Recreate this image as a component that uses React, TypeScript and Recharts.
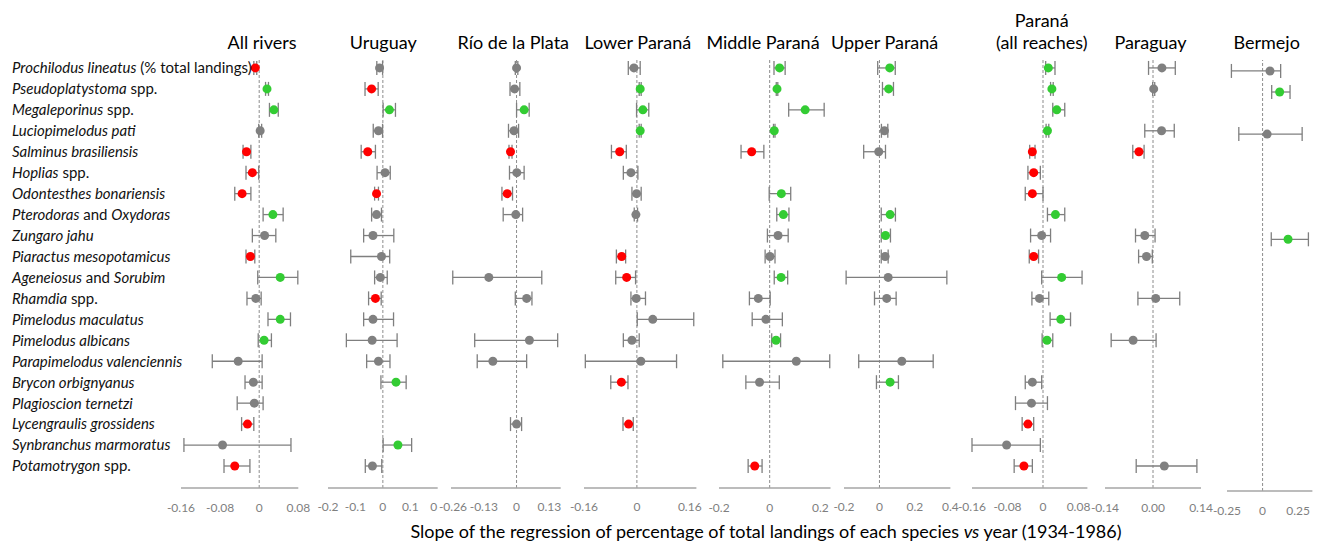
import React from 'react';
import { ScatterChart, Scatter, XAxis, YAxis, ErrorBar, ReferenceLine } from 'recharts';

const FONT = 'Lato, "Open Sans", sans-serif';

// species (italic parts between *)
const SPECIES = [
  '*Prochilodus lineatus* (% total landings)',
  '*Pseudoplatystoma* spp.',
  '*Megaleporinus* spp.',
  '*Luciopimelodus pati*',
  '*Salminus brasiliensis*',
  '*Hoplias* spp.',
  '*Odontesthes bonariensis*',
  '*Pterodoras* and *Oxydoras*',
  '*Zungaro jahu*',
  '*Piaractus mesopotamicus*',
  '*Ageneiosus* and *Sorubim*',
  '*Rhamdia* spp.',
  '*Pimelodus maculatus*',
  '*Pimelodus albicans*',
  '*Parapimelodus valenciennis*',
  '*Brycon orbignyanus*',
  '*Plagioscion ternetzi*',
  '*Lycengraulis grossidens*',
  '*Synbranchus marmoratus*',
  '*Potamotrygon* spp.',
];
const ROWS = SPECIES.map((_, i) => i);

type Row = [number, number, number, number, string]; // [species index, slope, lower, upper, trend]

const ALL_RIVERS: Row[] = [
  [0, -0.008, -0.011, -0.005, 'down'],
  [1, 0.016, 0.013, 0.019, 'up'],
  [2, 0.030, 0.021, 0.039, 'up'],
  [3, 0.002, -0.001, 0.005, 'ns'],
  [4, -0.026, -0.033, -0.017, 'down'],
  [5, -0.014, -0.027, -0.001, 'down'],
  [6, -0.035, -0.050, -0.017, 'down'],
  [7, 0.028, 0.008, 0.049, 'up'],
  [8, 0.011, -0.014, 0.034, 'ns'],
  [9, -0.018, -0.027, -0.009, 'down'],
  [10, 0.043, -0.003, 0.079, 'up'],
  [11, -0.007, -0.025, 0.004, 'ns'],
  [12, 0.043, 0.018, 0.064, 'up'],
  [13, 0.010, -0.002, 0.025, 'up'],
  [14, -0.043, -0.096, 0.006, 'ns'],
  [15, -0.012, -0.029, 0.006, 'ns'],
  [16, -0.010, -0.045, 0.008, 'ns'],
  [17, -0.024, -0.036, -0.011, 'down'],
  [18, -0.075, -0.154, 0.065, 'ns'],
  [19, -0.050, -0.072, -0.019, 'down'],
];

const URUGUAY: Row[] = [
  [0, -0.012, -0.022, -0.001, 'ns'],
  [1, -0.041, -0.065, -0.017, 'down'],
  [2, 0.024, 0.001, 0.046, 'up'],
  [3, -0.016, -0.035, -0.001, 'ns'],
  [4, -0.055, -0.079, -0.027, 'down'],
  [5, 0.008, -0.021, 0.027, 'ns'],
  [6, -0.023, -0.030, -0.016, 'down'],
  [7, -0.023, -0.041, -0.005, 'ns'],
  [8, -0.036, -0.070, 0.040, 'ns'],
  [9, -0.005, -0.117, 0.025, 'ns'],
  [10, -0.009, -0.030, 0.016, 'ns'],
  [11, -0.027, -0.052, -0.006, 'down'],
  [12, -0.036, -0.070, 0.039, 'ns'],
  [13, -0.039, -0.133, 0.052, 'ns'],
  [14, -0.016, -0.059, 0.026, 'ns'],
  [15, 0.048, -0.007, 0.085, 'up'],
  [18, 0.055, 0.001, 0.105, 'up'],
  [19, -0.038, -0.064, -0.004, 'ns'],
];

const RIO_DE_LA_PLATA: Row[] = [
  [0, 0.0, -0.005, 0.005, 'ns'],
  [1, -0.008, -0.026, 0.013, 'ns'],
  [2, 0.030, 0.0, 0.050, 'up'],
  [3, -0.010, -0.032, 0.008, 'ns'],
  [4, -0.024, -0.030, -0.018, 'down'],
  [5, 0.001, -0.028, 0.030, 'ns'],
  [6, -0.037, -0.058, -0.016, 'down'],
  [7, -0.003, -0.053, 0.024, 'ns'],
  [10, -0.110, -0.253, 0.100, 'ns'],
  [11, 0.040, -0.005, 0.061, 'ns'],
  [13, 0.051, -0.166, 0.163, 'ns'],
  [14, -0.094, -0.156, 0.040, 'ns'],
  [17, 0.0, -0.024, 0.020, 'ns'],
];

const LOWER_PARANA: Row[] = [
  [0, -0.009, -0.026, 0.010, 'ns'],
  [1, 0.010, 0.007, 0.013, 'up'],
  [2, 0.018, -0.001, 0.036, 'up'],
  [3, 0.010, 0.007, 0.013, 'up'],
  [4, -0.052, -0.077, -0.032, 'down'],
  [5, -0.018, -0.041, 0.003, 'ns'],
  [6, -0.001, -0.015, 0.013, 'ns'],
  [7, -0.003, -0.008, 0.002, 'ns'],
  [9, -0.046, -0.062, -0.034, 'down'],
  [10, -0.031, -0.064, -0.004, 'down'],
  [11, -0.002, -0.018, 0.026, 'ns'],
  [12, 0.048, 0.001, 0.172, 'ns'],
  [13, -0.015, -0.041, 0.007, 'ns'],
  [14, 0.012, -0.156, 0.120, 'ns'],
  [15, -0.047, -0.079, -0.027, 'down'],
  [17, -0.025, -0.042, -0.011, 'down'],
];

const MIDDLE_PARANA: Row[] = [
  [0, 0.039, 0.017, 0.061, 'up'],
  [1, 0.029, 0.026, 0.032, 'up'],
  [2, 0.140, 0.075, 0.215, 'up'],
  [3, 0.018, 0.015, 0.021, 'up'],
  [4, -0.071, -0.113, -0.023, 'down'],
  [6, 0.046, -0.002, 0.083, 'up'],
  [7, 0.054, 0.028, 0.076, 'up'],
  [8, 0.033, -0.009, 0.073, 'ns'],
  [9, 0.001, -0.018, 0.021, 'ns'],
  [10, 0.045, 0.018, 0.071, 'up'],
  [11, -0.045, -0.080, 0.002, 'ns'],
  [12, -0.015, -0.069, 0.050, 'ns'],
  [13, 0.025, 0.008, 0.043, 'up'],
  [14, 0.105, -0.185, 0.237, 'ns'],
  [15, -0.040, -0.094, 0.038, 'ns'],
  [19, -0.059, -0.085, -0.030, 'down'],
];

const UPPER_PARANA: Row[] = [
  [0, 0.058, -0.010, 0.089, 'up'],
  [1, 0.052, 0.017, 0.079, 'up'],
  [3, 0.028, 0.011, 0.047, 'ns'],
  [4, -0.004, -0.089, 0.034, 'ns'],
  [7, 0.060, 0.010, 0.090, 'up'],
  [8, 0.034, 0.010, 0.062, 'up'],
  [9, 0.032, 0.010, 0.049, 'ns'],
  [10, 0.049, -0.188, 0.380, 'ns'],
  [11, 0.041, -0.028, 0.094, 'ns'],
  [14, 0.126, -0.117, 0.303, 'ns'],
  [15, 0.060, -0.017, 0.107, 'up'],
];

const PARANA_ALL: Row[] = [
  [0, 0.012, 0.006, 0.027, 'up'],
  [1, 0.020, 0.017, 0.023, 'up'],
  [2, 0.031, 0.022, 0.049, 'up'],
  [3, 0.010, 0.007, 0.013, 'up'],
  [4, -0.024, -0.030, -0.018, 'down'],
  [5, -0.021, -0.034, -0.006, 'down'],
  [6, -0.024, -0.040, 0.0, 'down'],
  [7, 0.028, 0.010, 0.049, 'up'],
  [8, -0.003, -0.028, 0.017, 'ns'],
  [9, -0.021, -0.031, -0.010, 'down'],
  [10, 0.042, -0.003, 0.088, 'up'],
  [11, -0.008, -0.025, 0.013, 'ns'],
  [12, 0.040, 0.016, 0.062, 'up'],
  [13, 0.009, -0.002, 0.022, 'up'],
  [15, -0.024, -0.040, -0.003, 'ns'],
  [16, -0.026, -0.062, 0.010, 'ns'],
  [17, -0.034, -0.047, -0.021, 'down'],
  [18, -0.082, -0.160, -0.006, 'ns'],
  [19, -0.043, -0.065, -0.024, 'down'],
];

const PARAGUAY: Row[] = [
  [0, 0.026, -0.013, 0.065, 'ns'],
  [1, 0.002, -0.001, 0.005, 'ns'],
  [3, 0.025, -0.024, 0.062, 'ns'],
  [4, -0.041, -0.059, -0.026, 'down'],
  [8, -0.024, -0.051, 0.006, 'ns'],
  [9, -0.019, -0.042, -0.002, 'ns'],
  [11, 0.008, -0.044, 0.078, 'ns'],
  [13, -0.058, -0.122, 0.009, 'ns'],
  [19, 0.033, -0.049, 0.128, 'ns'],
];

const BERMEJO: Row[] = [
  [0, 0.052, -0.219, 0.127, 'ns'],
  [1, 0.120, 0.064, 0.193, 'up'],
  [3, 0.032, -0.167, 0.278, 'ns'],
  [8, 0.179, 0.061, 0.322, 'up'],
];

const SERIES = [ALL_RIVERS, URUGUAY, RIO_DE_LA_PLATA, LOWER_PARANA, MIDDLE_PARANA, UPPER_PARANA, PARANA_ALL, PARAGUAY, BERMEJO];

const PANEL_TITLES = [
  ['All rivers'], ['Uruguay'], ['Río de la Plata'], ['Lower Paraná'], ['Middle Paraná'],
  ['Upper Paraná'], ['Paraná', '(all reaches)'], ['Paraguay'], ['Bermejo'],
];

const X_DOMAINS = [
  [-0.16, 0.08], [-0.2, 0.2], [-0.26, 0.175], [-0.16, 0.18], [-0.2, 0.24],
  [-0.2, 0.4], [-0.16, 0.1], [-0.14, 0.14], [-0.25, 0.35],
];
const X_TICKS = [
  [-0.16, -0.08, 0, 0.08], [-0.2, -0.1, 0, 0.1, 0.2], [-0.26, -0.13, 0, 0.13], [-0.16, 0, 0.16],
  [-0.2, 0, 0.2], [-0.2, 0, 0.2, 0.4], [-0.16, -0.08, 0, 0.08], [-0.14, 0, 0.14], [-0.25, 0, 0.25],
];
const X_TICK_LABELS = [
  ['-0.16', '-0.08', '0', '0.08'], ['-0.2', '-0.1', '0', '0.1', '0'], ['-0.26', '-0.13', '0', '0.13'],
  ['-0.16', '0', '0.16'], ['-0.2', '0', '0.2'], ['-0.2', '0', '0.2', '0.4'],
  ['-0.16', '-0.08', '0', '0.08'], ['-0.14', '0.00', '0.14'], ['-0.25', '0', '0.25'],
];

const X_AXIS_TITLE_PARTS = ['Slope of the regression of percentage of total landings of each species ', 'vs', ' year (1934-1986)'];

// ---------- layout (pixels, page coordinates) ----------
const LAYOUT = [
  { left: 181, right: 298.3, top: 58.5, bottom: 488, title: 262 },
  { left: 328, right: 437.7, top: 58.5, bottom: 488, title: 383.3 },
  { left: 451, right: 560.7, top: 58.5, bottom: 488, title: 513.3 },
  { left: 584.3, right: 696.7, top: 58.5, bottom: 488, title: 637.8 },
  { left: 719, right: 830.5, top: 58.5, bottom: 488, title: 763 },
  { left: 844.3, right: 950.7, top: 58.5, bottom: 488, title: 884.7 },
  { left: 972.3, right: 1087.7, top: 58.5, bottom: 488, title: 1041.7 },
  { left: 1105, right: 1201, top: 58.5, bottom: 488, title: 1150.5 },
  { left: 1227.3, right: 1312.7, top: 60, bottom: 491, title: 1266.7 },
];
const ROW_DOMAINS = [
  [-0.45, 20.05], [-0.45, 20.05], [-0.45, 20.05], [-0.45, 20.05], [-0.45, 20.05],
  [-0.45, 20.05], [-0.45, 20.05], [-0.45, 20.05], [-0.52, 19.96],
];
// small horizontal nudges of tick labels that crowd a neighbouring panel
const TICK_NUDGE: Record<number, Record<number, number>> = { 1: { 4: -4 }, 2: { 0: 2 } };

const COLORS: Record<string, string> = { up: '#33cc33', down: '#ff0000', ns: '#808080' };

function SpeciesTick(props: any) {
  const { y, payload } = props;
  const parts = SPECIES[payload.value].split('*');
  return (
    <text x={12} y={y} dy="0.36em" fontSize={15} fontFamily={FONT} fill="#111" style={{ whiteSpace: 'pre' }}>
      {parts.map((p, i) => (p ? <tspan key={i} fontStyle={i % 2 === 1 ? 'italic' : 'normal'}>{p}</tspan> : null))}
    </text>
  );
}

function XTick(props: any) {
  const { x, y, payload, panel } = props;
  const ticks = X_TICKS[panel];
  const k = ticks.findIndex((t) => Math.abs(t - payload.value) < 1e-9);
  const label = k >= 0 ? X_TICK_LABELS[panel][k] : String(payload.value);
  const nudge = (TICK_NUDGE[panel] && TICK_NUDGE[panel][k]) || 0;
  return (
    <text x={x + nudge} y={y} dy="0.71em" textAnchor="middle" fill="#7f7f7f" fontSize={12} fontFamily={FONT}>
      {label}
    </text>
  );
}

function Dot(props: any) {
  const { cx, cy, payload } = props;
  if (cx == null || cy == null) return null;
  return <circle cx={cx} cy={cy} r={4.5} fill={COLORS[payload.sig]} />;
}

function Panel({ idx }: { idx: number }) {
  const L = LAYOUT[idx];
  const PAD = 30;
  const first = idx === 0;
  const chartLeft = first ? 0 : L.left - PAD;
  const width = L.right - chartLeft + PAD;
  const height = L.bottom + 40;
  const data = SERIES[idx].map(([row, est, lo, hi, sig]) => ({ row, est, err: [est - lo, hi - est], sig }));
  return (
    <div style={{ position: 'absolute', left: chartLeft, top: 0 }}>
      <ScatterChart width={width} height={height} margin={{ top: L.top, left: first ? 0 : PAD, right: PAD, bottom: 0 }}>
        <XAxis
          type="number"
          dataKey="est"
          domain={X_DOMAINS[idx]}
          ticks={X_TICKS[idx]}
          interval={0}
          allowDataOverflow
          height={40}
          axisLine={{ stroke: '#a6a6a6', strokeWidth: 1.5 }}
          tickLine={false}
          tickSize={6}
          tickMargin={9}
          tick={<XTick panel={idx} />}
        />
        <YAxis
          type="number"
          dataKey="row"
          domain={ROW_DOMAINS[idx]}
          reversed
          ticks={ROWS}
          interval={0}
          allowDataOverflow
          hide={!first}
          width={first ? L.left : 0}
          axisLine={false}
          tickLine={false}
          tick={first ? <SpeciesTick /> : false}
        />
        <ReferenceLine x={0} stroke="#8c8c8c" strokeDasharray="3 2" strokeWidth={1} />
        <Scatter data={data} isAnimationActive={false} shape={<Dot />}>
          <ErrorBar dataKey="err" direction="x" width={7} stroke="#7f7f7f" strokeWidth={1.3} />
        </Scatter>
      </ScatterChart>
    </div>
  );
}

export default function App() {
  return (
    <div style={{ position: 'absolute', left: 0, top: 0, width: 1322, height: 544, background: '#fff' }}>
      <svg width={1322} height={544} style={{ position: 'absolute', left: 0, top: 0 }}>
        {PANEL_TITLES.map((lines, i) =>
          lines.map((t, j) => (
            <text
              key={i + '-' + j}
              x={LAYOUT[i].title}
              y={49 - (lines.length - 1 - j) * 22}
              textAnchor="middle"
              fontSize={18}
              fontFamily={FONT}
              fill="#000"
            >
              {t}
            </text>
          ))
        )}
        <text x={766} y={538} textAnchor="middle" fontSize={18} fontFamily={FONT} fill="#000" style={{ whiteSpace: 'pre' }}>
          {X_AXIS_TITLE_PARTS.map((p, i) => (
            <tspan key={i} fontStyle={i === 1 ? 'italic' : 'normal'}>{p}</tspan>
          ))}
        </text>
      </svg>
      {SERIES.map((_, i) => (
        <Panel key={i} idx={i} />
      ))}
    </div>
  );
}
